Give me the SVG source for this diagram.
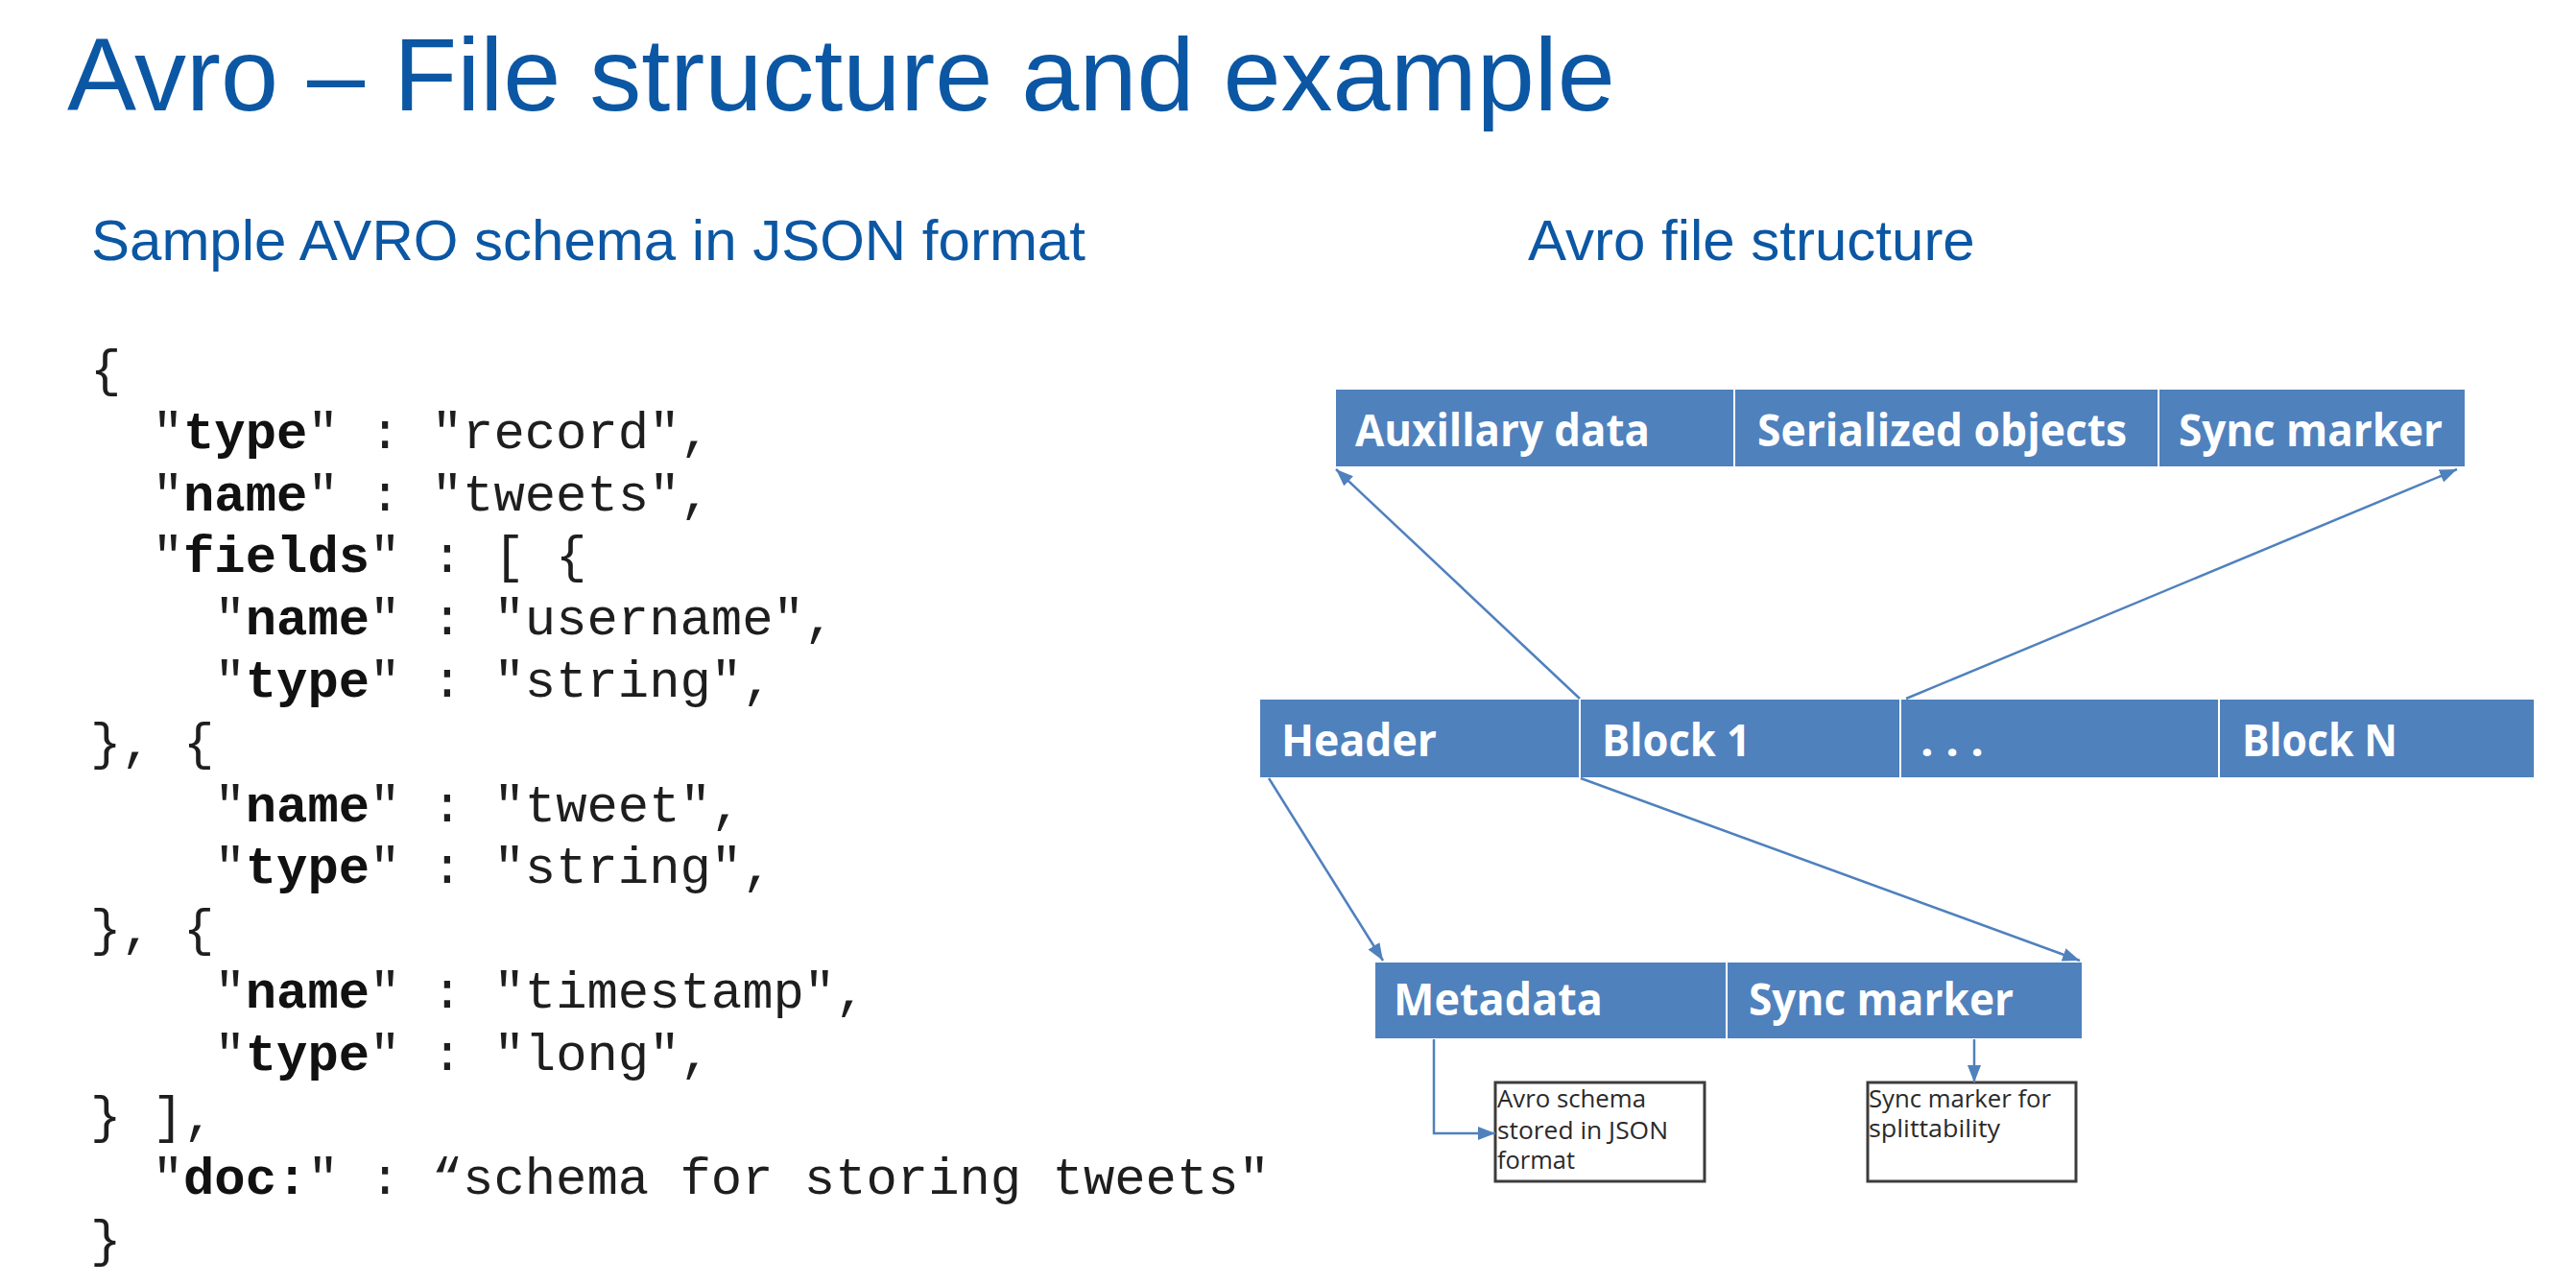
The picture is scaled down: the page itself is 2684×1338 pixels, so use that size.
<svg xmlns="http://www.w3.org/2000/svg" width="2684" height="1338" viewBox="0 0 2684 1338">
  <style>
    .title { font-family: "Liberation Sans", Arial, sans-serif; fill: #0B57A4; }
    .code { font-family: "Liberation Mono", "Courier New", monospace; font-size: 53.9px; fill: #1E1E1E; }
    .code .k { font-weight: bold; fill: #111; }
    .seg { fill: #4F81BD; stroke: #FFFFFF; stroke-width: 2; }
    .lbl { font-family: "Open Sans", "Noto Sans", sans-serif; font-weight: bold; font-size: 46px; fill: #FFFFFF; }
    .note { fill: #FFFFFF; stroke: #3C3C3C; stroke-width: 3; }
    .ntxt { font-family: "Open Sans", "Noto Sans", sans-serif; font-size: 25px; fill: #2A2A2A; }
    .conn { fill: none; stroke: #4F81BD; stroke-width: 2.5; }
  </style>
  <defs>
    <marker id="arrow" markerUnits="userSpaceOnUse" markerWidth="20" markerHeight="16" refX="18" refY="7" orient="auto">
      <path d="M0,0 L18,7 L0,14 z" fill="#4F81BD"/>
    </marker>
  </defs>

  <rect width="2684" height="1338" fill="#FFFFFF"/>

  <!-- headings -->
  <text class="title" x="70" y="115" font-size="108">Avro – File structure and example</text>
  <text class="title" x="95" y="271" font-size="60">Sample AVRO schema in JSON format</text>
  <text class="title" x="1592" y="271" font-size="60">Avro file structure</text>

  <!-- schema listing -->
  <g id="schema" class="code" xml:space="preserve">
    <text x="94" y="402">{</text>
    <text x="158.7" y="466.8">"<tspan class="k">type</tspan>" : "record",</text>
    <text x="158.7" y="531.6">"<tspan class="k">name</tspan>" : "tweets",</text>
    <text x="158.7" y="596.4">"<tspan class="k">fields</tspan>" : [ {</text>
    <text x="223.4" y="661.2">"<tspan class="k">name</tspan>" : "username",</text>
    <text x="223.4" y="726">"<tspan class="k">type</tspan>" : "string",</text>
    <text x="94" y="790.8">}, {</text>
    <text x="223.4" y="855.6">"<tspan class="k">name</tspan>" : "tweet",</text>
    <text x="223.4" y="920.4">"<tspan class="k">type</tspan>" : "string",</text>
    <text x="94" y="985.2">}, {</text>
    <text x="223.4" y="1050">"<tspan class="k">name</tspan>" : "timestamp",</text>
    <text x="223.4" y="1114.8">"<tspan class="k">type</tspan>" : "long",</text>
    <text x="94" y="1179.6">} ],</text>
    <text x="158.7" y="1244.4">"<tspan class="k">doc:</tspan>" : “schema for storing tweets"</text>
    <text x="94" y="1309.2">}</text>
  </g>

  <!-- block contents row -->
  <g id="block-contents">
    <rect class="seg" x="1391" y="405" width="416" height="82"/>
    <rect class="seg" x="1807" y="405" width="442" height="82"/>
    <rect class="seg" x="2249" y="405" width="320" height="82"/>
    <text class="lbl" x="1412" y="465" textLength="307" lengthAdjust="spacingAndGlyphs">Auxillary data</text>
    <text class="lbl" x="1831" y="465" textLength="385" lengthAdjust="spacingAndGlyphs">Serialized objects</text>
    <text class="lbl" x="2270" y="465" textLength="275" lengthAdjust="spacingAndGlyphs">Sync marker</text>
  </g>

  <!-- file row -->
  <g id="file">
    <rect class="seg" x="1312" y="728" width="334" height="83"/>
    <rect class="seg" x="1646" y="728" width="334" height="83"/>
    <rect class="seg" x="1980" y="728" width="332" height="83"/>
    <rect class="seg" x="2312" y="728" width="329" height="83"/>
    <text class="lbl" x="1335" y="788" textLength="162" lengthAdjust="spacingAndGlyphs">Header</text>
    <text class="lbl" x="1669" y="788" textLength="155" lengthAdjust="spacingAndGlyphs">Block 1</text>
    <text class="lbl" x="2001" y="788" textLength="66" lengthAdjust="spacingAndGlyphs">. . .</text>
    <text class="lbl" x="2336" y="788" textLength="162" lengthAdjust="spacingAndGlyphs">Block N</text>
  </g>

  <!-- header contents row -->
  <g id="header-contents">
    <rect class="seg" x="1432" y="1002" width="367" height="81"/>
    <rect class="seg" x="1799" y="1002" width="371" height="81"/>
    <text class="lbl" x="1452" y="1058" textLength="218" lengthAdjust="spacingAndGlyphs">Metadata</text>
    <text class="lbl" x="1822" y="1058" textLength="276" lengthAdjust="spacingAndGlyphs">Sync marker</text>
  </g>

  <!-- notes -->
  <g id="note-schema">
    <rect class="note" x="1558" y="1128" width="218" height="103"/>
    <text class="ntxt" x="1560" y="1154" textLength="155" lengthAdjust="spacingAndGlyphs">Avro schema</text>
    <text class="ntxt" x="1560" y="1187" textLength="178" lengthAdjust="spacingAndGlyphs">stored in JSON</text>
    <text class="ntxt" x="1560" y="1218" textLength="81" lengthAdjust="spacingAndGlyphs">format</text>
  </g>
  <g id="note-sync">
    <rect class="note" x="1946" y="1128" width="217" height="103"/>
    <text class="ntxt" x="1947" y="1154" textLength="190" lengthAdjust="spacingAndGlyphs">Sync marker for</text>
    <text class="ntxt" x="1947" y="1185" textLength="137" lengthAdjust="spacingAndGlyphs">splittability</text>
  </g>

  <!-- connectors -->
  <g id="connectors">
    <path class="conn" d="M1646,728 L1392,489" marker-end="url(#arrow)"/>
    <path class="conn" d="M1986,728 L2560,489" marker-end="url(#arrow)"/>
    <path class="conn" d="M1322,811 L1441,1001" marker-end="url(#arrow)"/>
    <path class="conn" d="M1647,811 L2167,1001" marker-end="url(#arrow)"/>
    <path class="conn" d="M1494,1083 L1494,1181 L1558,1181" marker-end="url(#arrow)"/>
    <path class="conn" d="M2057,1083 L2057,1128" marker-end="url(#arrow)"/>
  </g>
</svg>
